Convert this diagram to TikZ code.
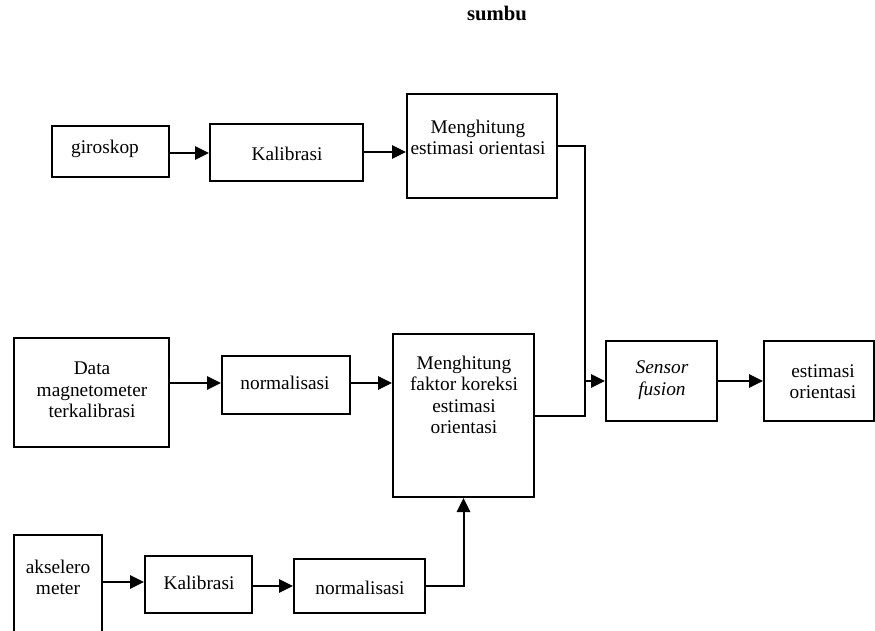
\documentclass[tikz,border=0pt]{standalone}
\usepackage{fontspec}
\setmainfont{Liberation Serif}
\usetikzlibrary{arrows.meta}
\begin{document}
\begin{tikzpicture}[x=0.75pt,y=-0.75pt,
  box/.style={draw,line width=1.5pt,inner sep=0pt,rectangle},
  txt/.style={align=center,inner sep=0pt,font=\fontsize{14.5pt}{16pt}\selectfont},
  stxt/.style={txt,text height=0.7em,text depth=0.22em,yshift=-2pt},
  arr/.style={line width=1.5pt,-{Triangle[length=10.5pt,width=10pt]}},
  ln/.style={line width=1.5pt}]
\useasboundingbox (0,0) rectangle (875,631);
% boxes
\node[box,minimum width=117*0.75pt,minimum height=51*0.75pt] (giro) at (110.5,151.5) {};
\node[box,minimum width=153*0.75pt,minimum height=57*0.75pt] (kal1) at (286.5,152.5) {};
\node[box,minimum width=150*0.75pt,minimum height=104*0.75pt] (est) at (482,146) {};
\node[box,minimum width=155*0.75pt,minimum height=109*0.75pt] (data) at (91.5,392.5) {};
\node[box,minimum width=128*0.75pt,minimum height=58*0.75pt] (norm1) at (286,385) {};
\node[box,minimum width=141*0.75pt,minimum height=163*0.75pt] (fak) at (463.5,415.5) {};
\node[box,minimum width=111*0.75pt,minimum height=80*0.75pt] (fus) at (661.5,381) {};
\node[box,minimum width=110*0.75pt,minimum height=80*0.75pt] (out) at (819,381) {};
\node[box,minimum width=88*0.75pt,minimum height=115*0.75pt] (aks) at (58,592.5) {};
\node[box,minimum width=107*0.75pt,minimum height=57*0.75pt] (kal2) at (198.5,584.5) {};
\node[box,minimum width=131*0.75pt,minimum height=54*0.75pt] (norm2) at (359.5,586) {};
% texts
\node[stxt,font=\fontsize{15.5pt}{18pt}\selectfont\bfseries] (sumbu) at (497,15) {sumbu};
\node[stxt] (tgiro) at (105,148) {giroskop};
\node[stxt] (tkal1) at (287,155) {Kalibrasi};
\node[txt] (test) at (478,137.5) {Menghitung\\estimasi orientasi};
\node[txt] (tdata) at (92,390) {Data\\magnetometer\\terkalibrasi};
\node[stxt] (tnorm1) at (285,384) {normalisasi};
\node[txt] (tfak) at (464,395) {Menghitung\\faktor koreksi\\estimasi\\orientasi};
\node[txt,font=\fontsize{14.5pt}{16pt}\selectfont\itshape] (tfus) at (662,380) {Sensor\\fusion};
\node[txt] (tout) at (823,382) {estimasi\\orientasi};
\node[txt] (taks) at (58,577.5) {akselero\\meter};
\node[stxt] (tkal2) at (199,584) {Kalibrasi};
\node[stxt] (tnorm2) at (360,589) {normalisasi};
% connectors
\coordinate (j) at (585,381);
\draw[arr] (giro.east |- 0,153) -- (kal1.west |- 0,153);
\draw[arr] (kal1.east |- 0,152) -- (est.west |- 0,152);
\draw[ln] (est.east) -| (j) |- (fak.east);
\draw[arr] (j) -- (fus.west);
\draw[arr] (fus.east) -- (out.west);
\draw[arr] (data.east |- 0,383) -- (norm1.west |- 0,383);
\draw[arr] (norm1.east |- 0,383) -- (fak.west |- 0,383);
\draw[arr] (aks.east |- 0,582) -- (kal2.west |- 0,582);
\draw[arr] (kal2.east |- 0,586) -- (norm2.west |- 0,586);
\draw[arr] (norm2.east) -| (fak.south);
\end{tikzpicture}
\end{document}
